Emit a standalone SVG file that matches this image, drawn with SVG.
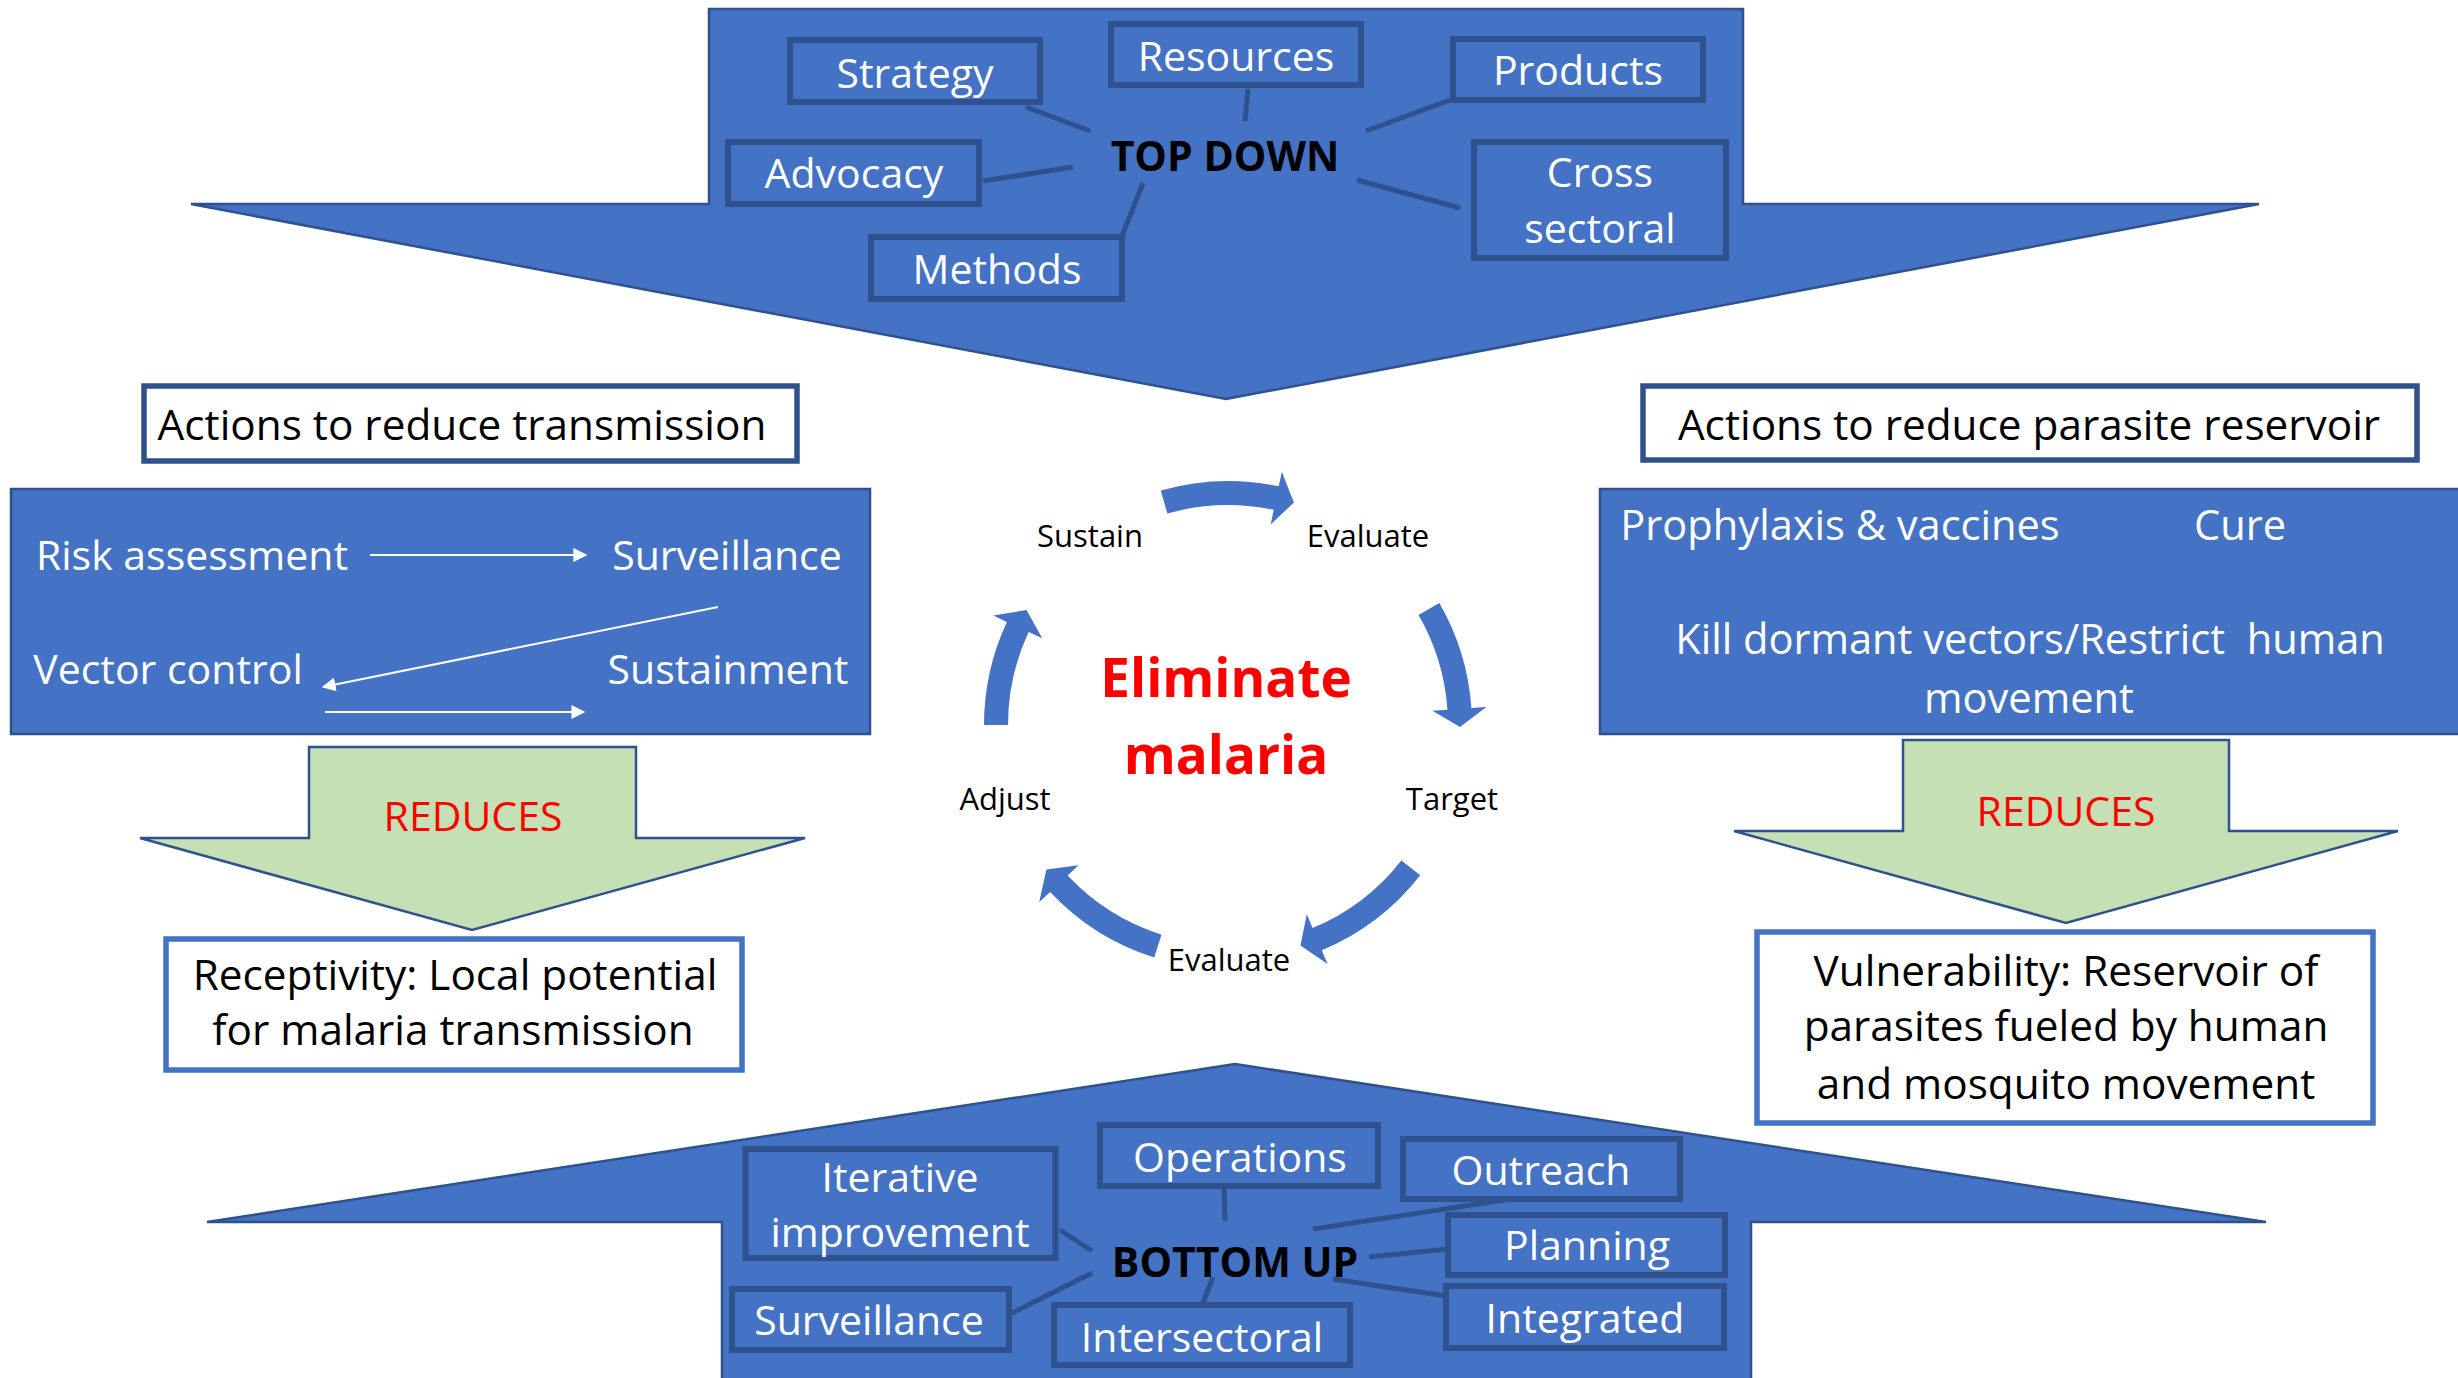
<svg xmlns="http://www.w3.org/2000/svg" width="2458" height="1378" viewBox="0 0 2458 1378">
<defs>
<style>
text{font-family:"Open Sans","Liberation Sans",sans-serif;font-size:41px;text-anchor:middle;white-space:pre}
.w{fill:#FFFFFF}
.k{fill:#000000}
.r{fill:#FF0000}
.b{font-weight:bold}
.sm{font-size:31px}
.lg{font-size:42.3px}
.md{font-size:41.6px}
.big{font-size:53px;font-weight:bold}
.blue{fill:#4472C4;stroke:#2F528F;stroke-width:2.5}
.box{fill:#4472C4;stroke:#2F528F;stroke-width:6}
.hdr{fill:#FFFFFF;stroke:#2F528F;stroke-width:5.5}
.out{fill:#FFFFFF;stroke:#4472C4;stroke-width:5.5}
.green{fill:#C5E0B4;stroke:#2F528F;stroke-width:2.5}
.link{stroke:#2F528F;stroke-width:5;fill:none}
.warr{stroke:#FFFFFF;stroke-width:2;fill:none;marker-end:url(#wh)}
.cyc{fill:#4472C4}
</style>
<marker id="wh" viewBox="0 0 10 10" refX="9" refY="5" markerWidth="7" markerHeight="7" orient="auto" markerUnits="strokeWidth">
<path d="M0,0 L10,5 L0,10 Z" fill="#FFFFFF"/>
</marker>
</defs>
<rect width="2458" height="1378" fill="#FFFFFF"/>

<g id="top-down-arrow">
<polygon class="blue" points="709,9 1743,9 1743,204 2259,204 1226,399 191,204 709,204"/>
</g>
<g id="bottom-up-arrow">
<polygon class="blue" points="1235,1064 2266,1222 1751,1222 1751,1395 722,1395 722,1222 207,1222"/>
</g>
<g id="transmission-panel">
<rect class="blue" x="11" y="489" width="859" height="245" stroke-width="2"/>
</g>
<g id="reservoir-panel">
<rect class="blue" x="1600" y="489" width="880" height="245" stroke-width="2"/>
</g>
<g id="reduces-left">
<polygon class="green" points="309,747 636,747 636,838 805,838 472,930 140,838 309,838"/>
<text class="r" x="473" y="831">REDUCES</text>
</g>
<g id="reduces-right">
<polygon class="green" points="1903,740 2229,740 2229,831 2398,831 2066,923 1734,831 1903,831"/>
<text class="r" x="2066" y="826">REDUCES</text>
</g>
<g id="header-transmission">
<rect class="hdr" x="144" y="386" width="653" height="75"/>
<text class="k lg" x="462" y="440">Actions to reduce transmission</text>
</g>
<g id="header-reservoir">
<rect class="hdr" x="1643" y="386" width="774" height="74"/>
<text class="k lg" x="2029" y="440">Actions to reduce parasite reservoir</text>
</g>
<g id="receptivity">
<rect class="out" x="166" y="939" width="576" height="131"/>
<text class="k lg" x="455" y="990">Receptivity: Local potential</text>
<text class="k lg" x="453" y="1045">for malaria transmission</text>
</g>
<g id="vulnerability">
<rect class="out" x="1757" y="932" width="616" height="191"/>
<text class="k lg" x="2066" y="986">Vulnerability: Reservoir of</text>
<text class="k lg" x="2066" y="1041">parasites fueled by human</text>
<text class="k lg" x="2066" y="1099">and mosquito movement</text>
</g>

<g id="connectors">
<line class="link" x1="1026" y1="107" x2="1090" y2="131"/>
<line class="link" x1="1248" y1="89" x2="1245" y2="121"/>
<line class="link" x1="1450" y1="100" x2="1366" y2="131"/>
<line class="link" x1="983" y1="181" x2="1073" y2="167"/>
<line class="link" x1="1143" y1="183" x2="1122" y2="236"/>
<line class="link" x1="1357" y1="180" x2="1460" y2="208"/>
<line class="link" x1="1224" y1="1186" x2="1225" y2="1221"/>
<line class="link" x1="1060" y1="1230" x2="1092" y2="1251"/>
<line class="link" x1="1012" y1="1313" x2="1092" y2="1273"/>
<line class="link" x1="1213" y1="1277" x2="1203" y2="1303"/>
<line class="link" x1="1313" y1="1229" x2="1524" y2="1197"/>
<line class="link" x1="1369" y1="1257" x2="1448" y2="1249"/>
<line class="link" x1="1333" y1="1279" x2="1446" y2="1296"/>
<path class="warr" d="M370,555 L586,555"/>
<path class="warr" d="M718,607 L323,687"/>
<path class="warr" d="M325,712 L584,712"/>
<path class="cyc" d="M1160.75,490.44 A244,244 0 0 1 1278.73,486.34 L1281.85,471.66 L1293.89,502.56 L1270.62,524.49 L1273.74,509.82 A220,220 0 0 0 1167.37,513.51 Z"/>
<path class="cyc" d="M1439.3,603 A244,244 0 0 1 1471.4,707.98 L1486.37,706.93 L1460,727.02 L1432.5,710.7 L1447.46,709.65 A220,220 0 0 0 1418.53,615 Z"/>
<path class="cyc" d="M1420.27,875.23 A244,244 0 0 1 1321.77,950.26 L1327.53,964.11 L1300.45,945.4 L1306.78,914.26 L1312.55,928.1 A220,220 0 0 0 1401.36,860.45 Z"/>
<path class="cyc" d="M1154.21,957.58 A244,244 0 0 1 1050.12,892.02 L1039.19,902.29 L1046.44,869.42 L1078.55,865.32 L1067.62,875.59 A220,220 0 0 0 1161.47,934.7 Z"/>
<path class="cyc" d="M984,725 A244,244 0 0 1 1006.86,621.89 L993.27,615.55 L1026.49,610.04 L1042.21,638.37 L1028.61,632.03 A220,220 0 0 0 1008,725 Z"/>
</g>

<g id="strategy"><rect class="box" x="790" y="40" width="250" height="62"/><text class="w" x="915" y="88">Strategy</text></g>
<g id="resources"><rect class="box" x="1111" y="24" width="250" height="61"/><text class="w" x="1236" y="71">Resources</text></g>
<g id="products"><rect class="box" x="1453" y="39" width="250" height="61"/><text class="w" x="1578" y="85">Products</text></g>
<g id="advocacy"><rect class="box" x="728" y="142" width="251" height="62"/><text class="w" x="854" y="188">Advocacy</text></g>
<g id="methods"><rect class="box" x="871" y="237" width="251" height="62"/><text class="w" x="997" y="284">Methods</text></g>
<g id="cross-sectoral"><rect class="box" x="1474" y="142" width="252" height="116"/><text class="w" x="1600" y="187">Cross</text><text class="w" x="1600" y="243">sectoral</text></g>
<g id="top-down-label"><text class="k b" x="1225" y="171">TOP DOWN</text></g>

<g id="risk-assessment"><text class="w" x="192" y="570">Risk assessment</text></g>
<g id="surveillance-l"><text class="w" x="727" y="570">Surveillance</text></g>
<g id="vector-control"><text class="w" x="168" y="684">Vector control</text></g>
<g id="sustainment"><text class="w" x="728" y="684">Sustainment</text></g>

<g id="prophylaxis"><text class="w md" x="1840" y="540">Prophylaxis &amp; vaccines</text></g>
<g id="cure"><text class="w md" x="2240" y="540">Cure</text></g>
<g id="kill-dormant"><text class="w md" x="2030" y="654">Kill dormant vectors/Restrict  human</text><text class="w md" x="2029" y="713">movement</text></g>

<g id="eliminate-malaria"><text class="r big" x="1226" y="697">Eliminate</text><text class="r big" x="1226" y="774">malaria</text></g>
<g id="sustain"><text class="k sm" x="1090" y="547">Sustain</text></g>
<g id="evaluate-top"><text class="k sm" x="1368" y="547">Evaluate</text></g>
<g id="target"><text class="k sm" x="1452" y="810">Target</text></g>
<g id="evaluate-bottom"><text class="k sm" x="1229" y="971">Evaluate</text></g>
<g id="adjust"><text class="k sm" x="1005" y="810">Adjust</text></g>

<g id="iterative"><rect class="box" x="745.5" y="1149" width="310" height="109"/><text class="w" x="900" y="1192">Iterative</text><text class="w" x="900" y="1247">improvement</text></g>
<g id="operations"><rect class="box" x="1100" y="1125" width="278" height="61"/><text class="w" x="1240" y="1172">Operations</text></g>
<g id="surveillance-b"><rect class="box" x="732" y="1289" width="277" height="61"/><text class="w" x="869" y="1335">Surveillance</text></g>
<g id="intersectoral"><rect class="box" x="1054" y="1305" width="296" height="60"/><text class="w" x="1202" y="1352">Intersectoral</text></g>
<g id="outreach"><rect class="box" x="1403" y="1139" width="277" height="60"/><text class="w" x="1541" y="1185">Outreach</text></g>
<g id="planning"><rect class="box" x="1448" y="1215" width="277" height="60"/><text class="w" x="1587" y="1260">Planning</text></g>
<g id="integrated"><rect class="box" x="1446" y="1286" width="278" height="62"/><text class="w" x="1585" y="1333">Integrated</text></g>
<g id="bottom-up-label"><text class="k b" x="1235" y="1277">BOTTOM UP</text></g>
</svg>
